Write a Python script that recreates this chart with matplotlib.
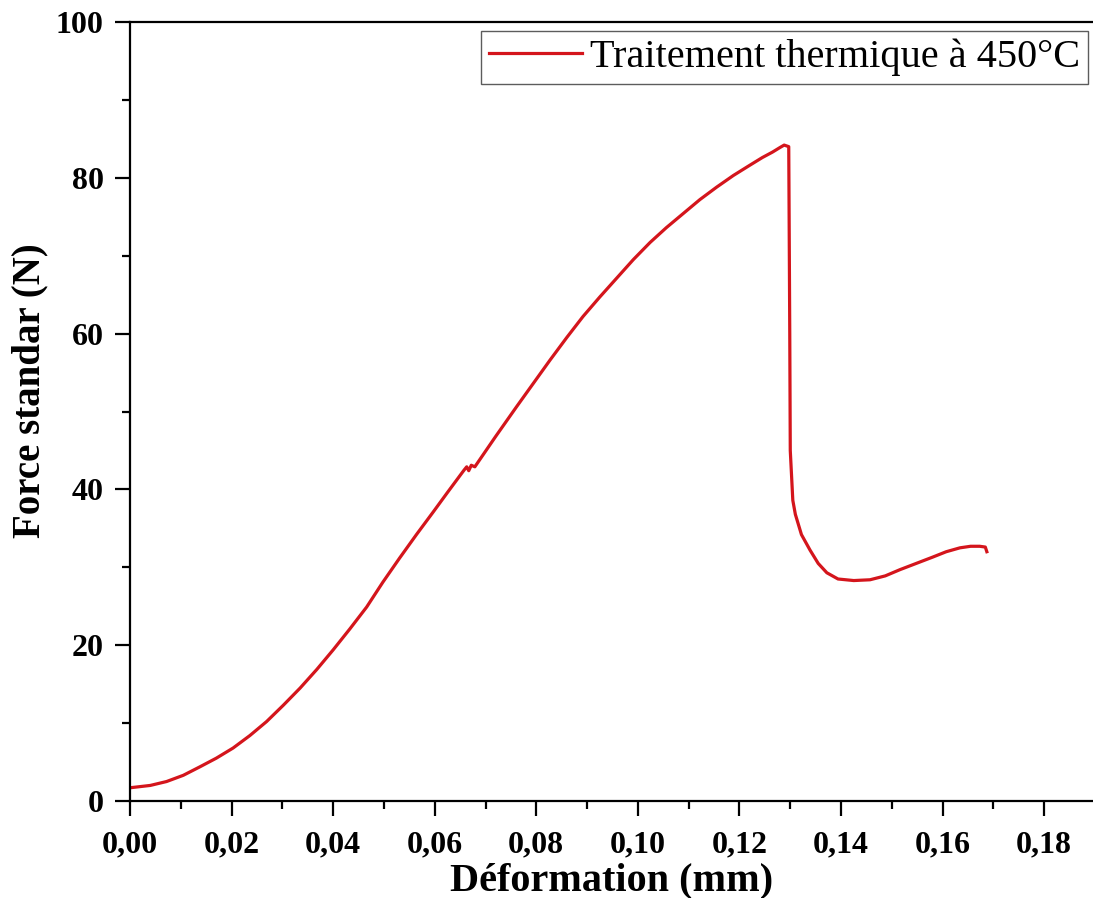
import numpy as np
import matplotlib
matplotlib.use("Agg")
import matplotlib.pyplot as plt
from matplotlib.ticker import MultipleLocator, FuncFormatter

# values
deformation = [0.0000, 0.0040, 0.0072, 0.0105, 0.0138, 0.0170, 0.0203, 0.0236,
               0.0269, 0.0302, 0.0335, 0.0368, 0.0400, 0.0433, 0.0466, 0.0498,
               0.0531, 0.0564, 0.0597, 0.0625, 0.0650, 0.0658, 0.0663, 0.0667,
               0.0672, 0.0679, 0.0720, 0.0761, 0.0794, 0.0827, 0.0860, 0.0892,
               0.0925, 0.0958, 0.0991, 0.1024, 0.1056, 0.1089, 0.1122, 0.1155,
               0.1188, 0.1220, 0.1245, 0.1265, 0.1280, 0.1288, 0.1297, 0.1299,
               0.1300, 0.1305, 0.1310, 0.1322, 0.1339, 0.1355, 0.1372, 0.1394,
               0.1425, 0.1457, 0.1487, 0.1516, 0.1548, 0.1580, 0.1607, 0.1634,
               0.1655, 0.1673, 0.1684, 0.1687]
force = [1.7, 2.0, 2.5, 3.3, 4.4, 5.5, 6.8, 8.4,
         10.2, 12.3, 14.5, 16.9, 19.4, 22.1, 24.9, 28.1,
         31.2, 34.2, 37.1, 39.6, 41.8, 42.5, 42.9, 42.4,
         43.1, 42.9, 46.8, 50.6, 53.6, 56.6, 59.5, 62.2,
         64.7, 67.1, 69.5, 71.7, 73.6, 75.4, 77.2, 78.8,
         80.3, 81.6, 82.6, 83.3, 83.9, 84.2, 84.0, 60.0,
         45.0, 38.6, 36.8, 34.2, 32.2, 30.5, 29.3, 28.5,
         28.3, 28.4, 28.9, 29.7, 30.5, 31.3, 32.0, 32.5,
         32.7, 32.7, 32.6, 32.0]

xticks = [0.00, 0.02, 0.04, 0.06, 0.08, 0.10, 0.12, 0.14, 0.16, 0.18]
yticks = [0, 20, 40, 60, 80, 100]

plt.rcParams["font.family"] = ["Liberation Serif", "DejaVu Serif"]

fig = plt.figure(figsize=(10.93, 8.98), dpi=100)
ax = fig.add_axes([0.1189, 0.108, 0.8811, 0.8675])

ax.plot(deformation, force, color="#d4151c", linewidth=2.3,
        label="Traitement thermique à 450°C")

ax.set_xlim(0, 0.1896)
ax.set_ylim(0, 100)
ax.set_xticks(xticks)
ax.set_yticks(yticks)
ax.xaxis.set_minor_locator(MultipleLocator(0.01))
ax.yaxis.set_minor_locator(MultipleLocator(10))
ax.xaxis.set_major_formatter(FuncFormatter(lambda v, p: f"{v:.2f}".replace(".", ",")))
ax.yaxis.set_major_formatter(FuncFormatter(lambda v, p: f"{v:.0f}"))

ax.tick_params(which="major", direction="out", length=11, width=1.6,
               labelsize=23, pad=8)
ax.tick_params(axis="x", which="major", pad=10)
ax.tick_params(which="minor", direction="out", length=5.5, width=1.6)
for lab in ax.get_xticklabels() + ax.get_yticklabels():
    lab.set_fontweight("bold")

for side in ["left", "bottom", "top"]:
    ax.spines[side].set_linewidth(1.6)
ax.spines["right"].set_visible(False)

ax.set_xlabel("Déformation (mm)", fontsize=29, fontweight="bold", labelpad=2)
ax.set_ylabel("Force standar (N)", fontsize=28, fontweight="bold")
# label sits a little above the axis centre in the reference
ax.yaxis.set_label_coords(-0.085, 0.527)

leg = ax.legend(loc="upper right", bbox_to_anchor=(0.995, 0.989),
                borderaxespad=0, fontsize=29, frameon=True, fancybox=False,
                handlelength=2.3, handletextpad=0.2, borderpad=0.2)
leg.get_frame().set_edgecolor("#333333")
leg.get_frame().set_linewidth(1.0)

fig.savefig("out.png", dpi=100)
